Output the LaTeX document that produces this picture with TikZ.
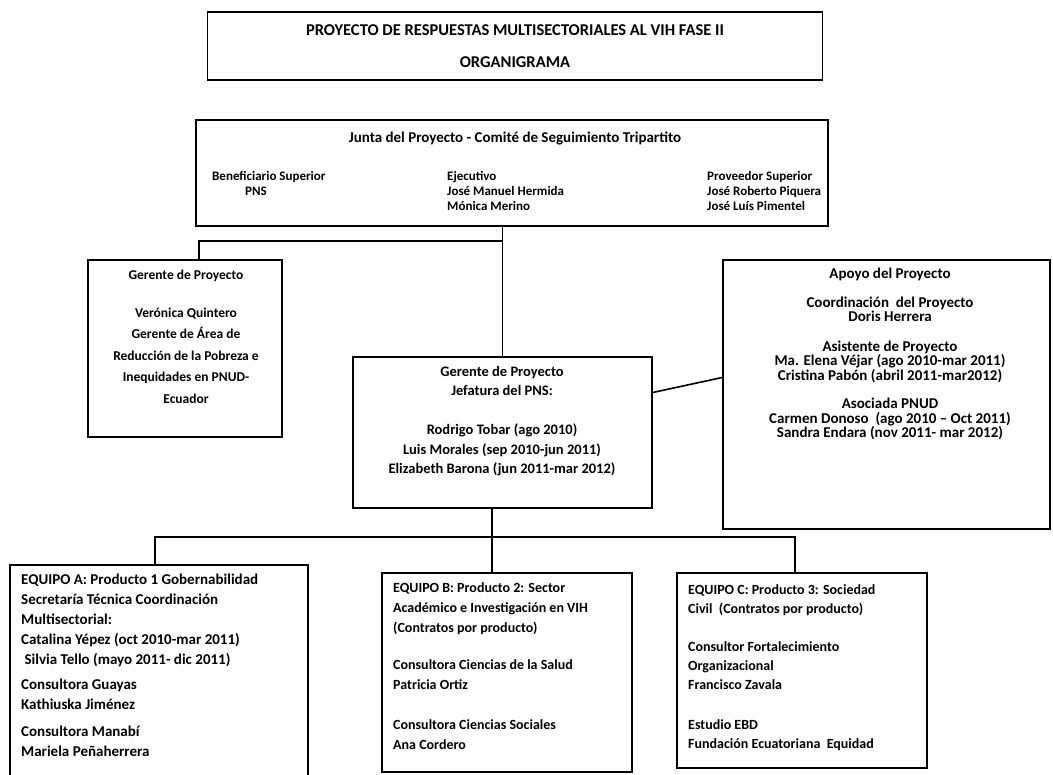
\documentclass[tikz,border=0pt]{standalone}
\usepackage{fontspec}
\setmainfont{Carlito}
\begin{document}
\begin{tikzpicture}[x=1pt,y=-1pt,
  box/.style={draw=black, line width=1.6pt, inner sep=0pt, fill=white},
  txt/.style={inner sep=0pt, font=\fontsize{13.5}{19}\selectfont\bfseries, align=center},
  ltxt/.style={inner sep=0pt, font=\fontsize{14}{20}\selectfont\bfseries, align=left, anchor=north west},
  ttl/.style={inner sep=0pt, font=\fontsize{16.5}{32}\selectfont\bfseries, align=center},
  conn/.style={draw=black, line width=1.6pt}]
\useasboundingbox (0,0) rectangle (1053,775);

% boxes
\node[box, minimum width=615pt, minimum height=68pt] (title) at (515,46) {};
\node[box, minimum width=632pt, minimum height=106pt] (junta) at (512,173) {};
\node[box, minimum width=194pt, minimum height=177pt] (lgp) at (185,348.5) {};
\node[box, minimum width=299pt, minimum height=151pt] (cgp) at (502.5,432.5) {};
\node[box, minimum width=327pt, minimum height=269pt] (apoyo) at (886.5,394.5) {};
\node[box, minimum width=298pt, minimum height=215pt] (eqA) at (159,672.5) {};
\node[box, minimum width=250pt, minimum height=199pt] (eqB) at (507,672.5) {};
\node[box, minimum width=250pt, minimum height=195pt] (eqC) at (802,670.5) {};

% title
\node[ttl, anchor=north] (ttltext) at (515,24) {PROYECTO DE RESPUESTAS MULTISECTORIALES AL VIH FASE II\\ORGANIGRAMA};

% junta
\node[txt, anchor=north, font=\fontsize{15}{19}\selectfont\bfseries] (jhead) at (515,132) {Junta del Proyecto - Comit\'e de Seguimiento Tripartito};
\node[ltxt, font=\fontsize{13}{15}\selectfont\bfseries] (jben) at (212,171) {Beneficiario Superior\\\hspace*{33pt}PNS};
\node[ltxt, font=\fontsize{13}{15}\selectfont\bfseries] (jeje) at (447,171) {Ejecutivo\\Jos\'e Manuel Hermida\\M\'onica Merino};
\node[ltxt, font=\fontsize{13}{15}\selectfont\bfseries] (jpro) at (707,171) {Proveedor Superior\\Jos\'e Roberto Piquera\\Jos\'e Lu\'is Pimentel};

% left gerente
\node[txt, anchor=north, font=\fontsize{13.5}{21.5}\selectfont\bfseries] (lgptext) at (186,270) {Gerente de Proyecto\\[16pt]Ver\'onica Quintero\\Gerente de \'Area de\\Reducci\'on de la Pobreza e\\Inequidades en PNUD-\\Ecuador};

% central
\node[txt, anchor=north, font=\fontsize{14.5}{19.5}\selectfont\bfseries] (cgptext) at (502,366) {Gerente de Proyecto\\Jefatura del PNS:\\[19.5pt]Rodrigo Tobar (ago 2010)\\Luis Morales (sep 2010-jun 2011)\\Elizabeth Barona (jun 2011-mar 2012)};

% apoyo
\node[txt, anchor=north, font=\fontsize{15}{14.5}\selectfont\bfseries] (apoyotext) at (890,268) {Apoyo del Proyecto\\[14pt]Coordinaci\'on\ \ del Proyecto\\Doris Herrera\\[15pt]Asistente de Proyecto\\Ma. Elena V\'ejar (ago 2010-mar 2011)\\Cristina Pab\'on (abril 2011-mar2012)\\[14pt]Asociada PNUD\\Carmen Donoso\ \ (ago 2010 -- Oct 2011)\\Sandra Endara (nov 2011- mar 2012)};

% equipos
\node[ltxt, font=\fontsize{15}{20}\selectfont\bfseries] (eqAtext) at (21,574) {EQUIPO A: Producto 1 Gobernabilidad\\Secretar\'ia T\'ecnica Coordinaci\'on\\Multisectorial:\\Catalina Y\'epez (oct 2010-mar 2011)\\\ Silvia Tello (mayo 2011- dic 2011)\\[5pt]Consultora Guayas\\Kathiuska Jim\'enez\\[7pt]Consultora Manab\'i\\Mariela Pe\~naherrera};
\node[ltxt] (eqBtext) at (393,582) {EQUIPO B: Producto 2: Sector\\Acad\'emico e Investigaci\'on en VIH\\(Contratos por producto)\\[17pt]Consultora Ciencias de la Salud\\Patricia Ortiz\\[20pt]Consultora Ciencias Sociales\\Ana Cordero};
\node[ltxt, font=\fontsize{14}{19}\selectfont\bfseries] (eqCtext) at (688,584) {EQUIPO C: Producto 3: Sociedad\\Civil\ \ (Contratos por producto)\\[19pt]Consultor Fortalecimiento\\Organizacional\\Francisco Zavala\\[21pt]Estudio EBD\\Fundaci\'on Ecuatoriana\ \ Equidad};

% connectors
\coordinate (j1) at (199,241);
\draw[conn] (cgp.north |- junta.south) -- (cgp.north);
\draw[conn] (j1 -| cgp.north) -- (j1) -- (lgp.north -| j1);
\draw[conn] ([yshift=40pt]cgp.east) -- ([yshift=17pt]apoyo.west);
\coordinate (ta) at (155,537);
\coordinate (tb) at (492,537);
\coordinate (tc) at (795,537);
\draw[conn] (eqA.north -| ta) -- (ta) -- (tc) -- (eqC.north -| tc);
\draw[conn] (cgp.south -| tb) -- (eqB.north -| tb);
\end{tikzpicture}
\end{document}
